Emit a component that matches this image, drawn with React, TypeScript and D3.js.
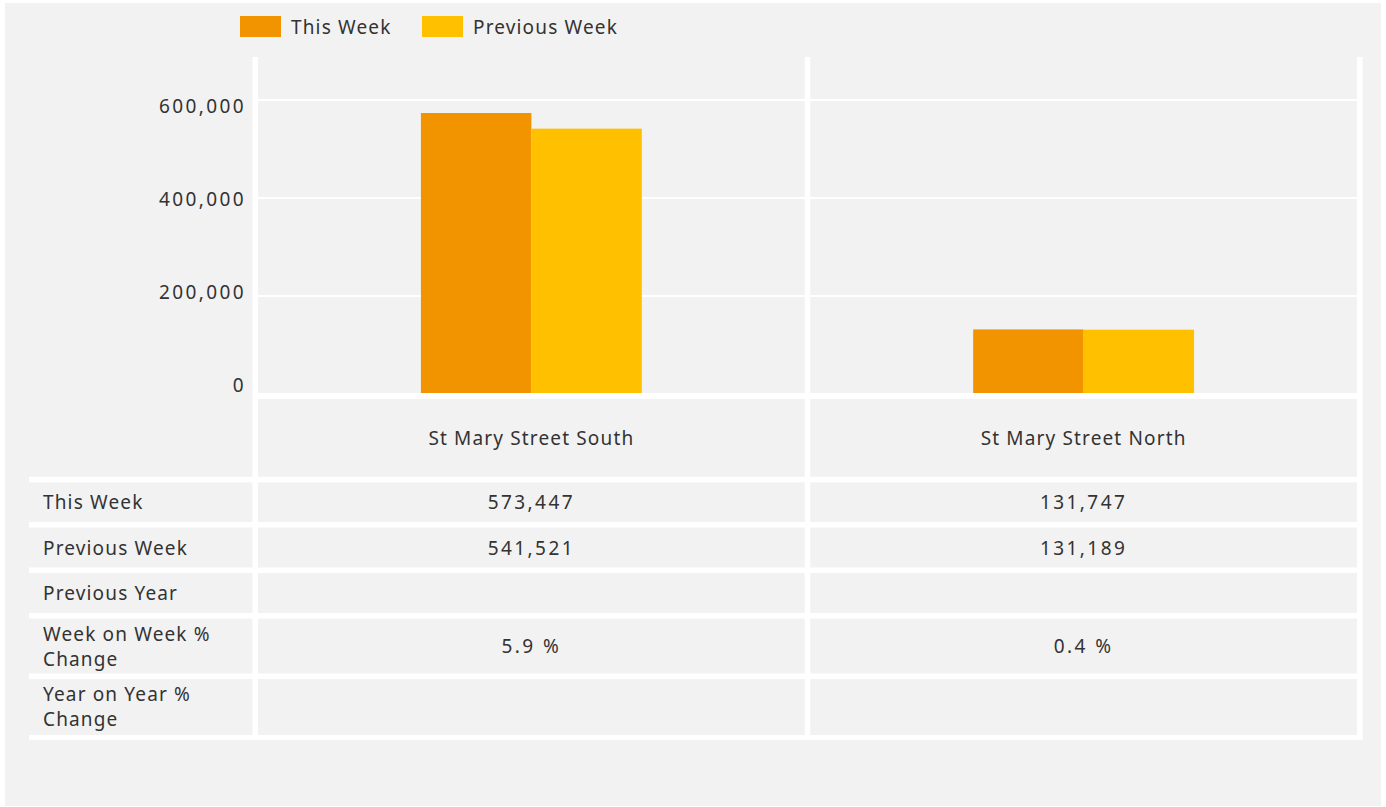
import React from "react";
import * as d3 from "d3";

const categories = ["St Mary Street South", "St Mary Street North"];
const seriesNames = ["This Week", "Previous Week"];
const thisWeek = [573447, 131747];
const previousWeek = [541521, 131189];
const previousYear: (number | null)[] = [null, null];
const weekOnWeekPct = [5.9, 0.4];
const yearOnYearPct: (number | null)[] = [null, null];
const yTicks = [0, 200000, 400000, 600000];
const rowLabels = [["This Week"], ["Previous Week"], ["Previous Year"], ["Week on Week %", "Change"], ["Year on Year %", "Change"]];

const W = 1386;
const H = 807;
const COLORS = ["#F29400", "#FFC000"];
const BG = "#F2F2F2";
const TXT = "#333333";
const FONT = "'Noto Sans', 'Open Sans', sans-serif";
const LS_TEXT = 1.15;
const LS_NUM = 2.4;

export default function App() {
  const plotLeft = 258;
  const plotRight = 1357;
  const lineW = 5.5;

  const x0 = d3.scaleBand<string>().domain(categories).range([plotLeft - lineW / 2, plotRight + lineW / 2]).paddingInner(0).paddingOuter(0);
  const x1 = d3.scaleBand<string>().domain(seriesNames).range([0, x0.bandwidth()]).paddingInner(0).paddingOuter(1.5);
  const y = d3.scaleLinear().domain([0, 600000]).range([394, 100]);
  const yLabel = d3.scaleLinear().domain([0, 600000]).range([385, 106]);
  const fmt = d3.format(",");

  const values = [thisWeek, previousWeek];
  const tableTop = 57;
  const tableBottom = 740;
  const rowTop = 482.3;
  const rowHeights = [39.7, 40, 40, 55, 55.5];
  const rowStarts: number[] = [];
  let acc = rowTop;
  rowHeights.forEach((h) => {
    rowStarts.push(acc);
    acc += h + lineW;
  });
  const cellText: (string | null)[][] = [
    thisWeek.map((v) => fmt(v)),
    previousWeek.map((v) => fmt(v)),
    previousYear.map((v) => (v == null ? null : fmt(v))),
    weekOnWeekPct.map((v) => `${v.toFixed(1)} %`),
    yearOnYearPct.map((v) => (v == null ? null : `${v.toFixed(1)} %`)),
  ];
  const vLines = [plotLeft - lineW, (x0(categories[1]) as number) - lineW / 2, plotRight];

  return (
    <svg width={W} height={H} style={{ position: "absolute", left: 0, top: 0, display: "block" }} fontFamily={FONT}>
      <rect x={0} y={0} width={W} height={H} fill="#ffffff" />
      <rect x={5} y={3} width={1376} height={803} fill={BG} />

      {/* legend */}
      {seriesNames.map((s, i) => {
        const lx = [240, 422][i];
        return (
          <g key={s}>
            <rect x={lx} y={16} width={41} height={21} fill={COLORS[i]} />
            <text x={lx + 51} y={26.5} fontSize={19} fill={TXT} letterSpacing={LS_TEXT} dominantBaseline="central">{s}</text>
          </g>
        );
      })}

      {/* gridlines */}
      {yTicks.filter((t) => t > 0).map((t) => (
        <rect key={t} x={plotLeft} y={y(t) - 1} width={plotRight - plotLeft} height={2} fill="#ffffff" />
      ))}

      {/* bars */}
      {categories.map((c, ci) => (
        <g key={c}>
          {seriesNames.map((s, si) => (
            <rect key={s} x={(x0(c) as number) + (x1(s) as number)} y={y(values[si][ci])} width={x1.bandwidth()} height={y(0) - y(values[si][ci])} fill={COLORS[si]} />
          ))}
        </g>
      ))}

      {/* zero line */}
      <rect x={plotLeft} y={393} width={plotRight - plotLeft} height={6} fill="#ffffff" />

      {/* y tick labels */}
      {yTicks.map((t) => (
        <text key={t} x={246} y={yLabel(t)} fontSize={19} fill={TXT} letterSpacing={LS_NUM} textAnchor="end" dominantBaseline="central">{fmt(t)}</text>
      ))}

      {/* vertical lines */}
      {vLines.map((vx, i) => (
        <rect key={i} x={vx} y={tableTop} width={lineW} height={tableBottom - tableTop} fill="#ffffff" />
      ))}

      {/* row separators */}
      {rowStarts.map((rs, i) => (
        <rect key={i} x={29} y={rs - lineW} width={plotRight + lineW - 29} height={lineW} fill="#ffffff" />
      ))}
      <rect x={29} y={tableBottom - 5} width={plotRight + lineW - 29} height={5} fill="#ffffff" />

      {/* category headers */}
      {categories.map((c) => (
        <text key={c} x={(x0(c) as number) + x0.bandwidth() / 2} y={438} fontSize={19} fill={TXT} letterSpacing={LS_TEXT} textAnchor="middle" dominantBaseline="central">{c}</text>
      ))}

      {/* row labels and cells */}
      {rowLabels.map((lines, ri) => {
        const cy = rowStarts[ri] + rowHeights[ri] / 2;
        return (
          <g key={ri}>
            {lines.map((ln, li) => (
              <text key={li} x={43} y={cy + (li - (lines.length - 1) / 2) * 25} fontSize={19} fill={TXT} letterSpacing={LS_TEXT} dominantBaseline="central">{ln}</text>
            ))}
            {categories.map((c, ci) =>
              cellText[ri][ci] ? (
                <text key={c} x={(x0(c) as number) + x0.bandwidth() / 2} y={cy} fontSize={19} fill={TXT} letterSpacing={LS_NUM} textAnchor="middle" dominantBaseline="central">{cellText[ri][ci]}</text>
              ) : null
            )}
          </g>
        );
      })}
    </svg>
  );
}
